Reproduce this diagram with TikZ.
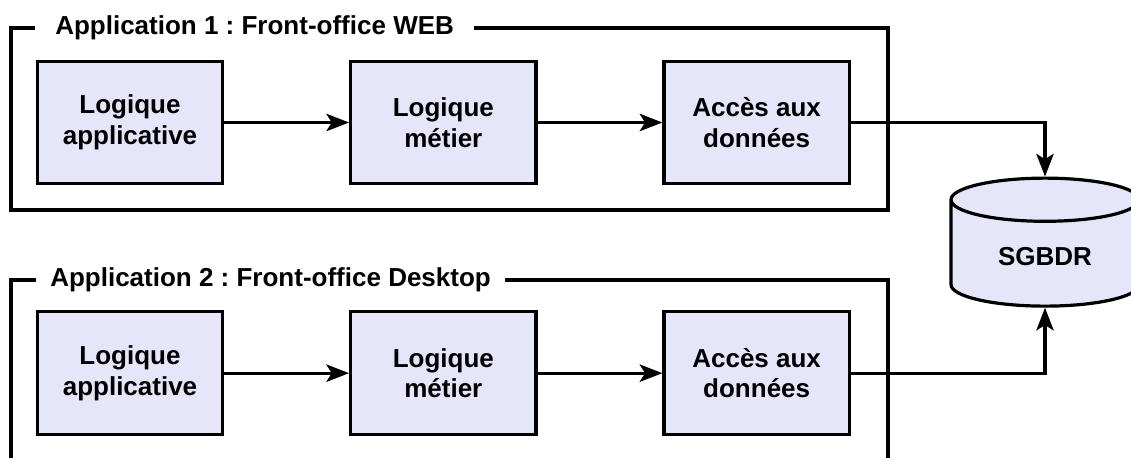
\documentclass[tikz,border=0pt]{standalone}
\usepackage{fontspec}
\setmainfont{Liberation Sans}
\frenchspacing
\usetikzlibrary{positioning,shapes.geometric,arrows.meta}
\definecolor{layerfill}{RGB}{230,230,250}
\newcommand{\diagfont}{\fontsize{19.5}{23}\selectfont\bfseries}
\tikzset{layer/.style={draw, fill=layerfill, line width=2.4pt, minimum width=139pt,
    minimum height=92pt, align=center, font=\diagfont},
  database/.style={cylinder, shape border rotate=90, draw, fill=layerfill, line width=2.4pt,
    aspect=0.42, minimum width=141pt, minimum height=96pt, font=\diagfont},
  link/.style={line width=2.4pt, -{Stealth[length=17pt,width=13pt,inset=4pt]}},
  frame/.style={line width=2.4pt},
  apptitle/.style={anchor=west, font=\diagfont}
}

\begin{document}
\begin{tikzpicture}[x=0.75pt, y=-0.75pt, node distance=188pt and 235pt, on grid]
        \useasboundingbox (0,0) rectangle (1131,457);

        % application 1
        \node[layer]                      (appliA)   at (130,122.5) {Logique\\applicative};
        \node[layer, right=of appliA]     (metierA)                 {Logique\\métier};
        \node[layer, right=of metierA]    (donneesA)                {Accès aux\\données};
        % application 2
        \node[layer, below=of appliA]     (appliB)                  {Logique\\applicative};
        \node[layer, right=of appliB]     (metierB)                 {Logique\\métier};
        \node[layer, right=of metierB]    (donneesB)                {Accès aux\\données};

        \node[database] (sgbdr) at (1045,257) {SGBDR};

        \node[apptitle, inner xsep=15pt]   (titreA) at (35,28)  {Application 1 : Front-office WEB};
        \node[apptitle, inner xsep=10.5pt] (titreB) at (36,280) {Application 2 : Front-office Desktop};

        \draw[frame] (titreA.east) -- (888,28) -- (888,210) -- (11,210) -- (11,28) -- (titreA.west);
        \draw[frame] (titreB.east) -- (888,280) -- (888,470);
        \draw[frame] (titreB.west) -- (11,280) -- (11,470);

        \draw[link] (appliA)   -- (metierA);
        \draw[link] (metierA)  -- (donneesA);
        \draw[link] (donneesA) -| (sgbdr.north);
        \draw[link] (appliB)   -- (metierB);
        \draw[link] (metierB)  -- (donneesB);
        \draw[link] (donneesB) -| (sgbdr.south);
\end{tikzpicture}
\end{document}
